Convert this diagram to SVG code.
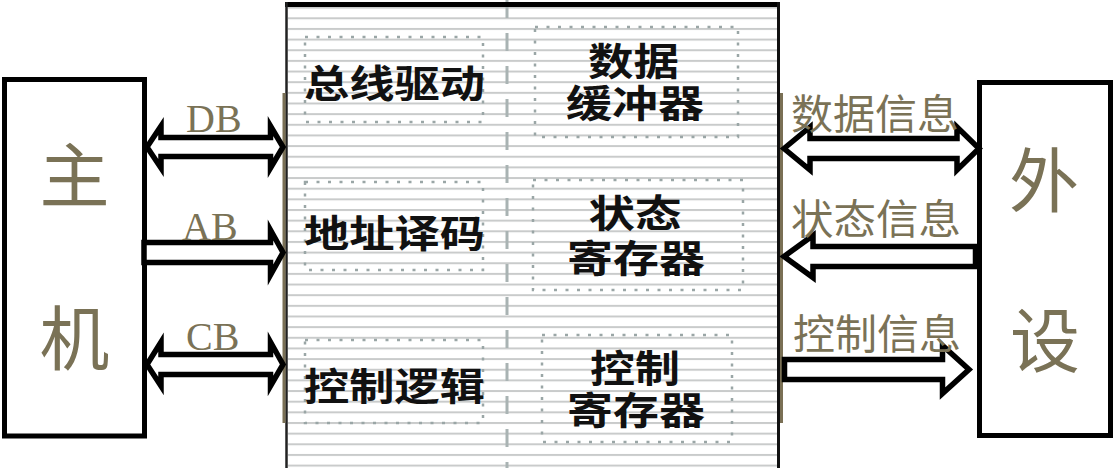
<svg xmlns="http://www.w3.org/2000/svg" width="1119" height="468" viewBox="0 0 1119 468">
  <defs>
    <pattern id="stripes" x="0" y="17.3" width="20" height="10.65" patternUnits="userSpaceOnUse">
      <rect x="0" y="0" width="20" height="2" fill="#c9cbcb"/>
    </pattern>
  </defs>
  <style>
    .box { fill: #ffffff; stroke: #000000; stroke-width: 5; }
    .big { font-family: "Noto Sans CJK SC", "Noto Sans", sans-serif; font-size: 70px; fill: #7a7256; text-anchor: middle; }
    .bus { font-family: "Liberation Serif", serif; font-size: 40px; fill: #7a7256; }
    .info { font-family: "Noto Sans CJK SC", "Noto Sans", sans-serif; font-size: 41px; fill: #7a7256; }
    .inner { font-family: "Noto Sans CJK SC", "Noto Sans", sans-serif; font-size: 38px; font-weight: bold; fill: #111111; text-anchor: middle; }
    .dots { fill: none; stroke: #9aa6a6; stroke-width: 2.5; stroke-dasharray: 3 8.5; }
    .arrow { fill: #ffffff; stroke: #000000; stroke-width: 5.5; stroke-linejoin: miter; stroke-miterlimit: 10; }
    .brown { stroke: #7a7055; stroke-width: 3; }
  </style>

  <g id="interface-panel">
    <rect x="286" y="4" width="493" height="470" fill="#ffffff"/>
    <rect x="288" y="7" width="489" height="461" fill="url(#stripes)"/>
    <line x1="507" y1="0" x2="507" y2="468" stroke="#a9b3b3" stroke-width="3" stroke-dasharray="18 15"/>
    <line x1="285" y1="4.5" x2="780" y2="4.5" stroke="#000" stroke-width="5"/>
    <line x1="286.5" y1="2" x2="286.5" y2="468" stroke="#222" stroke-width="2.5"/>
    <line x1="778.5" y1="2" x2="778.5" y2="468" stroke="#111" stroke-width="3"/>
    <line x1="284" y1="93" x2="284" y2="423" class="brown"/>
    <line x1="781.5" y1="93" x2="781.5" y2="423" class="brown"/>
  </g>

  <g id="bus-driver">
    <rect x="305" y="37" width="178" height="85" class="dots"/>
    <text x="394.5" y="97" class="inner" textLength="181" lengthAdjust="spacingAndGlyphs">总线驱动</text>
  </g>
  <g id="data-buffer">
    <rect x="535" y="27" width="203" height="110" class="dots"/>
    <text class="inner"><tspan x="633.5" y="75" textLength="91" lengthAdjust="spacingAndGlyphs">数据</tspan><tspan x="635" y="117" textLength="138" lengthAdjust="spacingAndGlyphs">缓冲器</tspan></text>
  </g>
  <g id="address-decode">
    <rect x="305" y="182" width="178" height="88" class="dots"/>
    <text x="394.5" y="247" class="inner" textLength="181" lengthAdjust="spacingAndGlyphs">地址译码</text>
  </g>
  <g id="status-register">
    <rect x="533" y="180" width="210" height="110" class="dots"/>
    <text class="inner"><tspan x="635" y="227" textLength="93" lengthAdjust="spacingAndGlyphs">状态</tspan><tspan x="636" y="272" textLength="138" lengthAdjust="spacingAndGlyphs">寄存器</tspan></text>
  </g>
  <g id="control-logic">
    <rect x="305" y="340" width="178" height="83" class="dots"/>
    <text x="394.5" y="400" class="inner" textLength="181" lengthAdjust="spacingAndGlyphs">控制逻辑</text>
  </g>
  <g id="control-register">
    <rect x="542" y="335" width="190" height="107" class="dots"/>
    <text class="inner"><tspan x="635" y="382" textLength="90" lengthAdjust="spacingAndGlyphs">控制</tspan><tspan x="636" y="424" textLength="138" lengthAdjust="spacingAndGlyphs">寄存器</tspan></text>
  </g>

  <g id="host">
    <rect x="4.5" y="79.5" width="140" height="356.5" class="box"/>
    <text x="74.5" y="202" class="big">主</text>
    <text x="74.5" y="365" class="big">机</text>
  </g>

  <g id="peripheral">
    <rect x="979.5" y="82.5" width="131" height="353" class="box"/>
    <text x="1044" y="207" class="big">外</text>
    <text x="1045" y="367" class="big">设</text>
  </g>

  <g id="connectors">
    <polygon class="arrow" points="147,147 161,126 161,137.5 270.5,137.5 270.5,126 283,147 270.5,168 270.5,156.5 161,156.5 161,168"/>
    <polygon class="arrow" points="144,242.5 270.5,242.5 270.5,230 283,252.5 270.5,275 270.5,262.5 144,262.5"/>
    <polygon class="arrow" points="147,364.5 161,342 161,354.5 270.5,354.5 270.5,342 283,364.5 270.5,386 270.5,374.5 161,374.5 161,386"/>
    <polygon class="arrow" points="784,148.5 810,127 810,138.5 957,138.5 957,127 979,148.5 957,170 957,158.5 810,158.5 810,170"/>
    <polygon class="arrow" points="784,256.5 813,235.5 813,246.5 975.5,246.5 975.5,266.5 813,266.5 813,277.5"/>
    <polygon class="arrow" points="784.5,359.5 942.5,359.5 942.5,345.5 969,369.5 942.5,393.5 942.5,379.5 784.5,379.5"/>
  </g>

  <g id="labels">
    <text x="186" y="132" class="bus">DB</text>
    <text x="182" y="240" class="bus">AB</text>
    <text x="186" y="350" class="bus">CB</text>
    <text x="791" y="129" class="info" textLength="168" lengthAdjust="spacingAndGlyphs">数据信息</text>
    <text x="791" y="234" class="info" textLength="170" lengthAdjust="spacingAndGlyphs">状态信息</text>
    <text x="793" y="349" class="info" textLength="168" lengthAdjust="spacingAndGlyphs">控制信息</text>
  </g>
</svg>
